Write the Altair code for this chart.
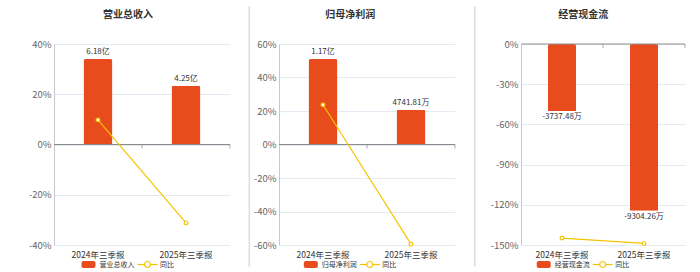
import altair as alt
import pandas as pd

categories = ["2024年三季报", "2025年三季报"]
titles = ["营业总收入", "归母净利润", "经营现金流"]

revenue = [6.18, 4.25]
revenue_labels = ["6.18亿", "4.25亿"]
revenue_yoy = [9.8, -31.2]

profit = [1.17, 0.474181]
profit_labels = ["1.17亿", "4741.81万"]
profit_yoy = [23.7, -59.5]

cashflow = [-3737.48, -9304.26]
cashflow_labels = ["-3737.48万", "-9304.26万"]
cashflow_yoy = [-144.8, -148.8]

legend_yoy = "同比"

FONT = "Noto Sans CJK SC"
BAR = "#E84B1C"
LINE = "#F5C400"
H = 201


def panel(title, vals, labels, yoy, bar_domain, pct_domain, pct_ticks, width,
          extent, cx, sep_x, sep_visible, bar_size, negative):
    df = pd.DataFrame({"cat": categories, "val": vals, "label": labels, "yoy": yoy})
    one = pd.DataFrame({"k": [0]})
    xaxis = alt.Axis(domain=False, ticks=False, tickSize=0, grid=False, labelPadding=5,
                     labelAngle=0, labelFont=FONT, labelFontSize=8.5, labelColor="#333")
    xscale = alt.Scale(paddingInner=0, paddingOuter=0)
    xenc = alt.X("cat:N", sort=categories, title=None, scale=xscale, axis=xaxis)

    ybar = alt.Y("val:Q", scale=alt.Scale(domain=bar_domain, nice=False, zero=True),
                 axis=None, title=None)
    bars = alt.Chart(df).mark_bar(size=bar_size, color=BAR, cornerRadiusEnd=2).encode(
        x=xenc, y=ybar)
    btext = alt.Chart(df).mark_text(
        font=FONT, fontSize=8, color="#333",
        baseline="top" if negative else "bottom", dy=2 if negative else -3
    ).encode(x=xenc, y=ybar, text="label:N")
    bar_layer = alt.layer(bars, btext)

    yscale = alt.Scale(domain=pct_domain, nice=False, zero=False)
    yaxis = alt.Axis(orient="left", values=pct_ticks, tickCount=len(pct_ticks) + 2,
                     labelExpr="datum.value + '%'",
                     minExtent=extent, maxExtent=extent, grid=True, gridColor="#E4EAF3",
                     domainColor="#C8C8C8", ticks=False, tickSize=0, labelPadding=3,
                     labelFlush=False, labelOverlap=False, labelFontSize=9.5,
                     labelColor="#666", labelFont=FONT)
    ypct = alt.Y("yoy:Q", scale=yscale, axis=yaxis, title=None)

    zero = alt.Chart(one).mark_rule(color="#8C8C8C", strokeWidth=1).encode(
        y=alt.YDatum(0, scale=yscale))
    ticks = alt.Chart(df).mark_tick(orient="vertical", size=4, thickness=1, yOffset=2,
                                    color="#8C8C8C").encode(
        x=alt.X("cat:N", sort=categories, title=None, scale=xscale, axis=xaxis,
                bandPosition=1),
        y=alt.YDatum(0, scale=yscale))
    line = alt.Chart(df).mark_line(color=LINE, strokeWidth=1.2).encode(x=xenc, y=ypct)
    pts = alt.Chart(df).mark_point(filled=True, fill="white", stroke=LINE, strokeWidth=1.2,
                                   size=14, opacity=1).encode(x=xenc, y=ypct)
    pct_layer = alt.layer(zero, ticks, line, pts)

    deco = []
    deco.append(alt.Chart(one).mark_rule(color="#DDDDDD", strokeWidth=1.5,
                                         opacity=1 if sep_visible else 0).encode(
        x=alt.value(sep_x), y=alt.value(-38), y2=alt.value(223)))
    deco.append(alt.Chart(one).mark_text(align="center", baseline="middle", font=FONT,
                                         fontSize=10, fontWeight="bold", color="#333").encode(
        x=alt.value(cx), y=alt.value(-29), text=alt.value(title)))
    L = cx - 46.5
    ly = 220.5
    deco.append(alt.Chart(one).mark_rect(color=BAR, cornerRadius=2).encode(
        x=alt.value(L), x2=alt.value(L + 14), y=alt.value(ly - 3.5), y2=alt.value(ly + 3.5)))
    deco.append(alt.Chart(one).mark_text(align="left", baseline="middle", font=FONT,
                                         fontSize=7, color="#333").encode(
        x=alt.value(L + 18), y=alt.value(ly), text=alt.value(title)))
    deco.append(alt.Chart(one).mark_rule(color=LINE, strokeWidth=1.2).encode(
        x=alt.value(L + 56), x2=alt.value(L + 76), y=alt.value(ly)))
    deco.append(alt.Chart(one).mark_point(shape="circle", filled=True, fill="white",
                                          stroke=LINE, strokeWidth=1.2, size=36,
                                          opacity=1).encode(
        x=alt.value(L + 66), y=alt.value(ly)))
    deco.append(alt.Chart(one).mark_text(align="left", baseline="middle", font=FONT,
                                         fontSize=7, color="#333").encode(
        x=alt.value(L + 78.5), y=alt.value(ly), text=alt.value(legend_yoy)))

    return alt.layer(bar_layer, pct_layer, *deco).resolve_scale(y="independent").properties(
        width=width, height=H)


p1 = panel(titles[0], revenue, revenue_labels, revenue_yoy, [-7.27, 7.27], [-40, 40],
           [-40, -20, 0, 20, 40], 176, 53.5, 74, -10, False, 29, False)
p2 = panel(titles[1], profit, profit_labels, profit_yoy, [-1.376, 1.376], [-60, 60],
           [-60, -40, -20, 0, 20, 40, 60], 176, 47.7, 71.3, -29.7, True, 29, False)
p3 = panel(titles[2], cashflow, cashflow_labels, cashflow_yoy, [-11210, 0], [-150, 0],
           [-150, -120, -90, -60, -30, 0], 164, 64.1, 62.2, -46.3, True, 28, True)

chart = alt.hconcat(p1, p2, p3, spacing=0).properties(
    padding={"left": 0, "top": 5, "right": 5, "bottom": 0}
).configure_view(stroke=None)

chart.save("out.html", embed_options={"renderer": "svg", "actions": False})
